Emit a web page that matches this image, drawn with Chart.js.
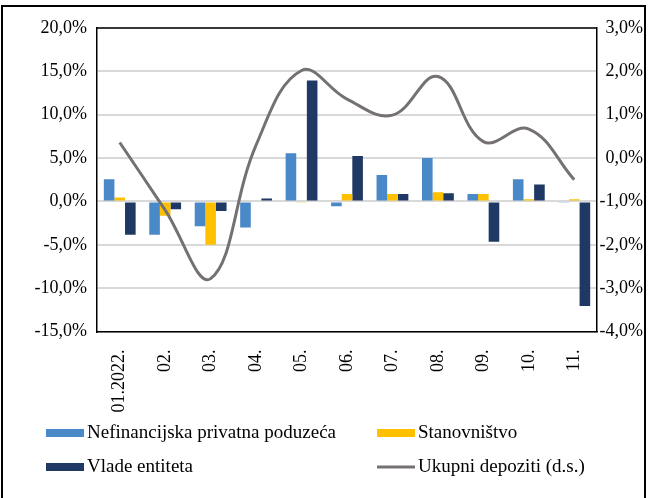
<!DOCTYPE html>
<html>
<head>
<meta charset="utf-8">
<script src="https://cdn.jsdelivr.net/npm/chart.js@4.4.1/dist/chart.umd.min.js"></script>
<style>
  html, body { margin: 0; padding: 0; background: #fff; }
  #wrap { width: 648px; height: 498px; position: relative; }
</style>
</head>
<body>
<div id="wrap"><canvas id="myChart" width="648" height="498"></canvas></div>
<script>
// Data
const months = ['01.2022.', '02.', '03.', '04.', '05.', '06.', '07.', '08.', '09.', '10.', '11.'];
const poduzeca = [2.55, -3.85, -2.85, -3.0, 5.55, -0.55, 3.05, 5.0, 0.85, 2.55, -0.15];
const stanovnistvo = [0.45, -1.65, -5.0, 0.1, -0.15, 0.85, 0.85, 1.05, 0.85, 0.25, 0.25];
const vlade = [-3.85, -0.9, -1.1, 0.35, 13.95, 5.25, 0.85, 0.95, -4.65, 1.95, -12.05];
const ukupni = [0.36, -1.2, -2.78, 0.3, 2.02, 1.36, 0.99, 1.88, 0.38, 0.67, -0.5];

const fmt = v => v.toFixed(1).replace('.', ',') + '%';

Chart.defaults.font.family = "'Liberation Serif', 'Times New Roman', serif";
Chart.defaults.font.size = 18;
Chart.defaults.color = '#000';

// frame, top border of plot and two-column legend
const decor = {
    id: 'decor',
    beforeDraw(chart) {
        const ctx = chart.ctx;
        ctx.save();
        ctx.fillStyle = '#fff';
        ctx.fillRect(0, 0, chart.width, chart.height);
        ctx.strokeStyle = '#000';
        ctx.lineWidth = 2;
        ctx.strokeRect(2, 6, 643, 520);
        ctx.restore();
    },
    afterDraw(chart) {
        const ctx = chart.ctx;
        const a = chart.chartArea;
        ctx.save();
        ctx.strokeStyle = '#000';
        ctx.lineWidth = 1.5;
        ctx.beginPath();
        ctx.moveTo(a.left, a.top);
        ctx.lineTo(a.right, a.top);
        ctx.stroke();

        const spots = [[46, 433], [377, 433], [46, 467], [377, 467]];
        ctx.font = "19px 'Liberation Serif', 'Times New Roman', serif";
        ctx.textBaseline = 'middle';
        chart.data.datasets.forEach((ds, k) => {
            const [x, y] = spots[k];
            if (ds.type === 'line') {
                ctx.strokeStyle = ds.borderColor;
                ctx.lineWidth = 3;
                ctx.beginPath();
                ctx.moveTo(x, y);
                ctx.lineTo(x + 38, y);
                ctx.stroke();
            } else {
                ctx.fillStyle = ds.backgroundColor;
                ctx.fillRect(x, y - 4, 38, 8);
            }
            ctx.fillStyle = '#000';
            ctx.fillText(ds.label, x + 41, y);
        });
        ctx.restore();
    }
};

const ctx = document.getElementById('myChart').getContext('2d');
new Chart(ctx, {
    data: {
        labels: months,
        datasets: [
            { type: 'bar', label: 'Nefinancijska privatna poduzeća', data: poduzeca, backgroundColor: '#4A89C8', yAxisID: 'y', order: 2 },
            { type: 'bar', label: 'Stanovništvo', data: stanovnistvo, backgroundColor: '#FFC000', yAxisID: 'y', order: 2 },
            { type: 'bar', label: 'Vlade entiteta', data: vlade, backgroundColor: '#1F3864', yAxisID: 'y', order: 2 },
            { type: 'line', label: 'Ukupni depoziti (d.s.)', data: ukupni, borderColor: '#767171', borderWidth: 3,
              pointRadius: 0, tension: 0.4, fill: false, yAxisID: 'y1', order: 1 }
        ]
    },
    options: {
        responsive: false,
        animation: false,
        datasets: { bar: { categoryPercentage: 0.7, barPercentage: 1.0 } },
        layout: { padding: { top: 28, left: 0, right: 5, bottom: 0 } },
        plugins: { legend: { display: false }, tooltip: { enabled: false } },
        scales: {
            x: {
                grid: { display: false },
                border: { display: true, color: '#000', width: 1.5 },
                ticks: { minRotation: 90, maxRotation: 90, padding: 10, autoSkip: false },
                afterFit: s => { s.height = 166.5; }
            },
            y: {
                position: 'left',
                min: -15, max: 20,
                ticks: { stepSize: 5, padding: 10, callback: v => fmt(v) },
                grid: { color: '#d9d9d9', lineWidth: 2, drawTicks: false },
                border: { display: true, color: '#000', width: 1.5 },
                afterFit: s => { s.width = 97; }
            },
            y1: {
                position: 'right',
                min: -4, max: 3,
                ticks: { stepSize: 1, padding: 1, crossAlign: 'far', callback: v => fmt(v) },
                grid: { display: false, drawTicks: false },
                border: { display: true, color: '#000', width: 1.5 },
                afterFit: s => { s.width = 46; }
            }
        }
    },
    plugins: [decor]
});
</script>
</body>
</html>
